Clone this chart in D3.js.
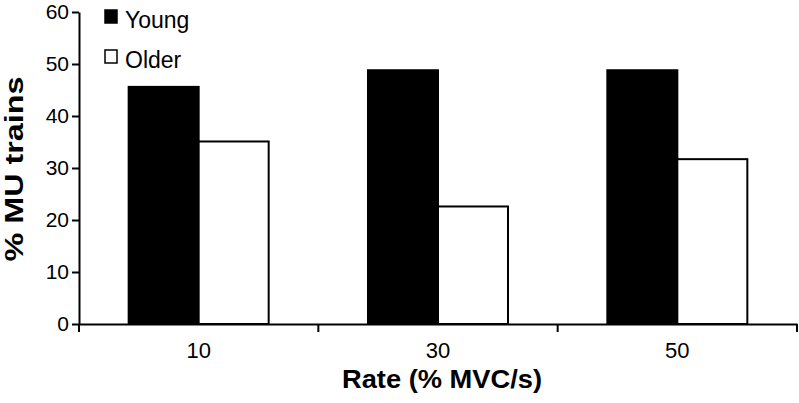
<!DOCTYPE html>
<html><head><meta charset="utf-8">
<script src="https://cdn.jsdelivr.net/npm/d3@7"></script>
<style>body{margin:0;background:#fff}svg{display:block}text{font-family:"Liberation Sans",Arial,sans-serif}</style>
</head><body><svg id="c" width="799" height="403"></svg>
<script>
const categories = ["10","30","50"];
const seriesNames = ["Young","Older"];
const young = [45.6, 48.8, 48.8];
const older = [35.1, 22.6, 31.7];
const yTicks = [0,10,20,30,40,50,60];

const svg = d3.select("#c");
const L = 79, R = 797, T = 12, B = 324;
const y = d3.scaleLinear().domain([0,60]).range([B,T]);
const x0 = d3.scaleBand().domain(categories).range([L,R]).padding(0);
const bw = x0.bandwidth();
const gw = bw*0.585;
const x1 = d3.scaleBand().domain(seriesNames).range([(bw-gw)/2,(bw+gw)/2]).padding(0);
const fills = {Young:"#000", Older:"#fff"};

const rows = categories.map((c,i)=>({c, vals:[{s:"Young",v:young[i]},{s:"Older",v:older[i]}]}));
const g = svg.append("g");
g.selectAll("g.grp").data(rows).join("g").attr("class","grp")
 .attr("transform",d=>`translate(${x0(d.c)},0)`)
 .selectAll("rect").data(d=>d.vals).join("rect")
 .attr("x",d=>x1(d.s)).attr("width",x1.bandwidth())
 .attr("y",d=>y(d.v)).attr("height",d=>y(0)-y(d.v))
 .attr("fill",d=>fills[d.s]).attr("stroke","#000").attr("stroke-width",2);

// Y axis
const ya = svg.append("g").attr("transform",`translate(${L},0)`)
 .call(d3.axisLeft(y).tickValues(yTicks).tickSize(7).tickPadding(3).tickSizeOuter(0));
ya.select(".domain").attr("stroke-width",2);
ya.selectAll(".tick line").attr("stroke-width",2);
ya.selectAll("text").attr("font-size",21).attr("fill","#000");

// X axis
const xa = svg.append("g").attr("transform",`translate(0,${B})`)
 .call(d3.axisBottom(x0).tickSize(0).tickPadding(18).tickSizeOuter(0));
xa.select(".domain").attr("stroke-width",2);
xa.selectAll("text").attr("font-size",22).attr("fill","#000");
const bounds = [L].concat(categories.map(c=>x0(c)+bw));
xa.selectAll("line.bd").data(bounds).join("line").attr("class","bd")
 .attr("x1",d=>d).attr("x2",d=>d).attr("y1",0).attr("y2",8)
 .attr("stroke","#000").attr("stroke-width",2);

// Axis titles
svg.append("text").attr("x",442).attr("y",388).attr("text-anchor","middle")
 .attr("font-size",26).attr("font-weight","bold").attr("textLength",200).attr("lengthAdjust","spacingAndGlyphs")
 .text("Rate (% MVC/s)");
svg.append("text").attr("transform","translate(23,169) rotate(-90)").attr("text-anchor","middle")
 .attr("font-size",25).attr("font-weight","bold").attr("textLength",185).attr("lengthAdjust","spacingAndGlyphs")
 .text("% MU trains");

// Legend
const leg = svg.append("g");
const legY = [9, 49];
seriesNames.forEach((s,i)=>{
  leg.append("rect").attr("x",105).attr("y",legY[i]+1).attr("width",12).attr("height",13)
   .attr("fill",fills[s]).attr("stroke","#000").attr("stroke-width",1.5);
  leg.append("text").attr("x",125).attr("y",legY[i]+11).attr("dy","0.35em")
   .attr("font-size",23).attr("fill","#000").text(s);
});
</script></body></html>
